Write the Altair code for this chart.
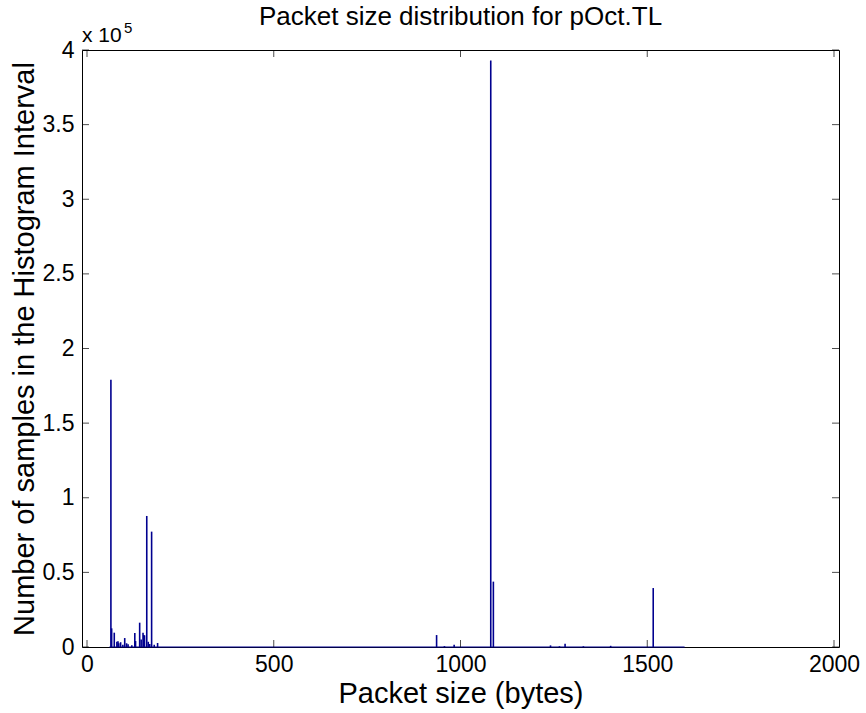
import altair as alt
import pandas as pd

# Histogram bins (packet size in bytes) and sample counts per bin
sizes = [64, 66, 73, 80, 83, 85, 90, 96, 101, 106, 110, 120, 128, 130, 141, 145,
         150, 152, 154, 160, 164, 168, 173, 180, 189,
         936, 957, 983, 1081, 1088, 1241, 1265, 1280, 1329, 1402, 1516]
counts = [179000, 12500, 9600, 3600, 3800, 2500, 3200, 1500, 6000, 2500, 1800, 1200, 9400, 4000, 16300, 5000,
          9600, 8000, 7800, 87800, 3500, 2000, 77300, 1500, 2700,
          8000, 600, 1500, 393000, 43800, 1100, 500, 2200, 500, 800, 39500]

# Extent of the histogram (zero-height bins drawn along the baseline)
hist_start = [60]
hist_end = [1600]

x_ticks = [0, 500, 1000, 1500, 2000]
y_ticks = [0, 50000, 100000, 150000, 200000, 250000, 300000, 350000, 400000]

chart_title = "Packet size distribution for pOct.TL"
x_title = "Packet size (bytes)"
y_title = "Number of samples in the Histogram Interval"

W, H = 757, 597
FONT = "Liberation Sans"
BLUE = "#00008f"
TICK = 7

bars_df = pd.DataFrame({"size": sizes, "count": counts})
span_df = pd.DataFrame({"start": hist_start, "end": hist_end, "zero": [0]})
xt_df = pd.DataFrame({"v": x_ticks})
yt_df = pd.DataFrame({"v": y_ticks})

xscale = alt.Scale(domain=[0, 2000], nice=False)
yscale = alt.Scale(domain=[0, 400000], nice=False)

bars = alt.Chart(bars_df).mark_bar(color=BLUE, size=1.6).encode(
    x=alt.X("size:Q", scale=xscale,
            axis=alt.Axis(values=x_ticks, title=x_title, ticks=False, format="d",
                          labelPadding=6, titlePadding=3)),
    y=alt.Y("count:Q", scale=yscale,
            axis=alt.Axis(values=y_ticks, title=y_title,
                          ticks=False, labelPadding=8, titlePadding=3,
                          labelExpr="datum.value / 100000")),
)

baseline = alt.Chart(span_df).mark_rule(color=BLUE, strokeWidth=1.2).encode(
    x=alt.X("start:Q", scale=xscale), x2="end:Q", y=alt.Y("zero:Q", scale=yscale)
)

# Inward tick marks on all four sides of the box
tk = dict(color="black", thickness=1, size=TICK)
xt_bottom = alt.Chart(xt_df).mark_tick(orient="vertical", **tk).encode(
    x=alt.X("v:Q", scale=xscale), y=alt.value(H - TICK / 2))
xt_top = alt.Chart(xt_df).mark_tick(orient="vertical", **tk).encode(
    x=alt.X("v:Q", scale=xscale), y=alt.value(TICK / 2))
yt_left = alt.Chart(yt_df).mark_tick(orient="horizontal", **tk).encode(
    y=alt.Y("v:Q", scale=yscale), x=alt.value(TICK / 2))
yt_right = alt.Chart(yt_df).mark_tick(orient="horizontal", **tk).encode(
    y=alt.Y("v:Q", scale=yscale), x=alt.value(W - TICK / 2))

# Scale factor annotation above the y axis
exponent = alt.Chart(pd.DataFrame({"t": ["x 10"]})).mark_text(
    font=FONT, fontSize=21, align="left", baseline="alphabetic").encode(
    text="t:N", x=alt.value(0), y=alt.value(-8))
exponent_sup = alt.Chart(pd.DataFrame({"t": ["5"]})).mark_text(
    font=FONT, fontSize=15, align="left", baseline="alphabetic").encode(
    text="t:N", x=alt.value(42), y=alt.value(-17))

title = alt.Chart(pd.DataFrame({"t": [chart_title]})).mark_text(
    font=FONT, fontSize=26, align="center", baseline="middle").encode(
    text="t:N", x=alt.value(W / 2), y=alt.value(-33))

chart = alt.layer(
    baseline, bars, xt_bottom, xt_top, yt_left, yt_right, exponent, exponent_sup, title
).properties(
    width=W, height=H,
    autosize=alt.AutoSizeParams(type="none"),
    padding={"left": 82, "top": 50, "right": 27, "bottom": 66},
).configure_view(
    stroke="black", strokeWidth=1
).configure_axis(
    grid=False, domain=False, labelFont=FONT, titleFont=FONT, labelFontSize=23,
    titleFontSize=29, titleFontWeight="normal", labelColor="black", titleColor="black"
)

chart.save("out.html", embed_options={"renderer": "svg", "actions": False})
